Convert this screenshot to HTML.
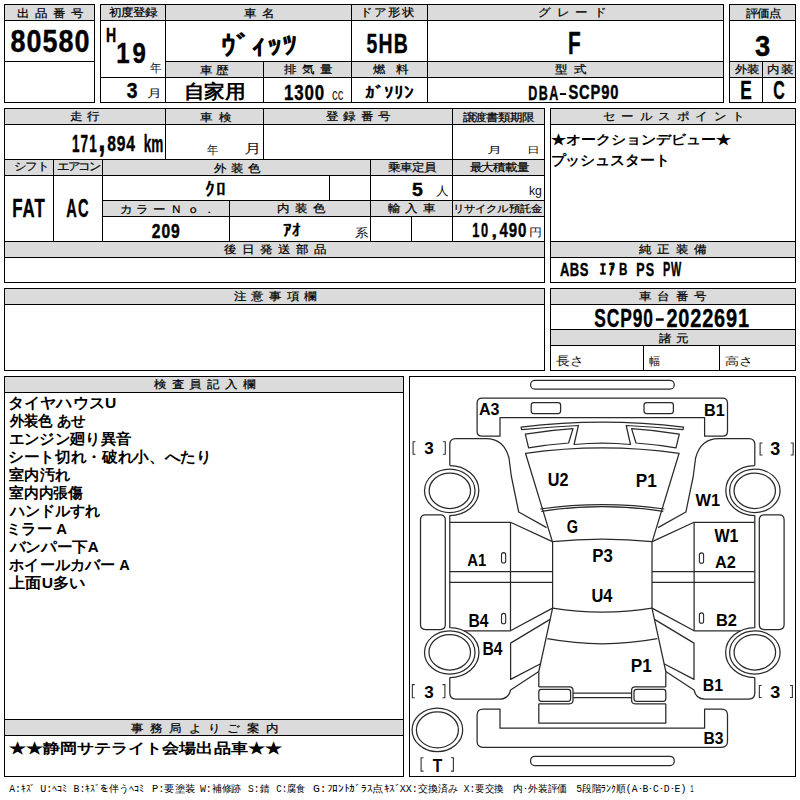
<!DOCTYPE html>
<html lang="ja"><head><meta charset="utf-8">
<style>
html,body{margin:0;padding:0;background:#fff;}
svg{display:block;}
text{font-family:"Liberation Sans",sans-serif;white-space:pre;}
</style></head>
<body>
<svg width="800" height="800" viewBox="0 0 800 800">
<rect width="800" height="800" fill="#fff"/>
<rect x="5" y="5" width="89" height="15" fill="#dbdbdb"/>
<rect x="101" y="5" width="64" height="15" fill="#dbdbdb"/>
<rect x="166" y="5" width="185" height="15" fill="#dbdbdb"/>
<rect x="352" y="5" width="75" height="15" fill="#dbdbdb"/>
<rect x="428" y="5" width="295" height="15" fill="#dbdbdb"/>
<rect x="166" y="62" width="97" height="15" fill="#dbdbdb"/>
<rect x="264" y="62" width="87" height="15" fill="#dbdbdb"/>
<rect x="352" y="62" width="75" height="15" fill="#dbdbdb"/>
<rect x="428" y="62" width="295" height="15" fill="#dbdbdb"/>
<rect x="730" y="5" width="65" height="15" fill="#dbdbdb"/>
<rect x="730" y="62" width="32" height="15" fill="#dbdbdb"/>
<rect x="763" y="62" width="32" height="15" fill="#dbdbdb"/>
<rect x="5" y="109" width="160" height="15" fill="#dbdbdb"/>
<rect x="166" y="109" width="97" height="15" fill="#dbdbdb"/>
<rect x="264" y="109" width="188" height="15" fill="#dbdbdb"/>
<rect x="453" y="109" width="91" height="15" fill="#dbdbdb"/>
<rect x="5" y="160" width="48" height="15" fill="#dbdbdb"/>
<rect x="54" y="160" width="48" height="15" fill="#dbdbdb"/>
<rect x="103" y="160" width="267" height="15" fill="#dbdbdb"/>
<rect x="371" y="160" width="81" height="15" fill="#dbdbdb"/>
<rect x="453" y="160" width="91" height="15" fill="#dbdbdb"/>
<rect x="103" y="201" width="126" height="15" fill="#dbdbdb"/>
<rect x="230" y="201" width="140" height="15" fill="#dbdbdb"/>
<rect x="371" y="201" width="81" height="15" fill="#dbdbdb"/>
<rect x="453" y="201" width="91" height="15" fill="#dbdbdb"/>
<rect x="5" y="242" width="539" height="15" fill="#dbdbdb"/>
<rect x="551" y="109" width="244" height="15" fill="#dbdbdb"/>
<rect x="551" y="242" width="244" height="15" fill="#dbdbdb"/>
<rect x="5" y="289" width="539" height="15" fill="#dbdbdb"/>
<rect x="551" y="289" width="244" height="15" fill="#dbdbdb"/>
<rect x="551" y="330" width="244" height="15" fill="#dbdbdb"/>
<rect x="5" y="377" width="398" height="15" fill="#dbdbdb"/>
<rect x="5" y="720" width="398" height="15" fill="#dbdbdb"/>
<rect x="4" y="4" width="91" height="1"/>
<rect x="4" y="102" width="91" height="1"/>
<rect x="4" y="20" width="91" height="1"/>
<rect x="4" y="61" width="91" height="1"/>
<rect x="100" y="4" width="624" height="1"/>
<rect x="100" y="102" width="624" height="1"/>
<rect x="100" y="20" width="624" height="1"/>
<rect x="165" y="61" width="559" height="1"/>
<rect x="100" y="77" width="624" height="1"/>
<rect x="729" y="4" width="67" height="1"/>
<rect x="729" y="102" width="67" height="1"/>
<rect x="729" y="20" width="67" height="1"/>
<rect x="729" y="61" width="67" height="1"/>
<rect x="729" y="77" width="67" height="1"/>
<rect x="4" y="108" width="541" height="1"/>
<rect x="4" y="282" width="541" height="1"/>
<rect x="4" y="124" width="541" height="1"/>
<rect x="4" y="159" width="541" height="1"/>
<rect x="4" y="175" width="541" height="1"/>
<rect x="102" y="200" width="443" height="1"/>
<rect x="102" y="216" width="443" height="1"/>
<rect x="4" y="241" width="541" height="1"/>
<rect x="4" y="257" width="541" height="1"/>
<rect x="550" y="108" width="246" height="1"/>
<rect x="550" y="282" width="246" height="1"/>
<rect x="550" y="124" width="246" height="1"/>
<rect x="550" y="241" width="246" height="1"/>
<rect x="550" y="257" width="246" height="1"/>
<rect x="4" y="288" width="541" height="1"/>
<rect x="4" y="370" width="541" height="1"/>
<rect x="4" y="304" width="541" height="1"/>
<rect x="550" y="288" width="246" height="1"/>
<rect x="550" y="370" width="246" height="1"/>
<rect x="550" y="304" width="246" height="1"/>
<rect x="550" y="329" width="246" height="1"/>
<rect x="550" y="345" width="246" height="1"/>
<rect x="4" y="376" width="400" height="1"/>
<rect x="4" y="776" width="400" height="1"/>
<rect x="4" y="392" width="400" height="1"/>
<rect x="4" y="719" width="400" height="1"/>
<rect x="4" y="735" width="400" height="1"/>
<rect x="409" y="376" width="387" height="1"/>
<rect x="409" y="776" width="387" height="1"/>
<rect x="4" y="4" width="1" height="99"/>
<rect x="94" y="4" width="1" height="99"/>
<rect x="100" y="4" width="1" height="99"/>
<rect x="723" y="4" width="1" height="99"/>
<rect x="165" y="4" width="1" height="99"/>
<rect x="351" y="4" width="1" height="99"/>
<rect x="427" y="4" width="1" height="99"/>
<rect x="263" y="61" width="1" height="42"/>
<rect x="729" y="4" width="1" height="99"/>
<rect x="795" y="4" width="1" height="99"/>
<rect x="762" y="61" width="1" height="42"/>
<rect x="4" y="108" width="1" height="175"/>
<rect x="544" y="108" width="1" height="175"/>
<rect x="165" y="108" width="1" height="52"/>
<rect x="263" y="108" width="1" height="52"/>
<rect x="452" y="108" width="1" height="52"/>
<rect x="53" y="159" width="1" height="83"/>
<rect x="102" y="159" width="1" height="83"/>
<rect x="370" y="159" width="1" height="83"/>
<rect x="452" y="159" width="1" height="83"/>
<rect x="329" y="175" width="1" height="26"/>
<rect x="229" y="200" width="1" height="42"/>
<rect x="411" y="216" width="1" height="26"/>
<rect x="550" y="108" width="1" height="175"/>
<rect x="795" y="108" width="1" height="175"/>
<rect x="4" y="288" width="1" height="83"/>
<rect x="544" y="288" width="1" height="83"/>
<rect x="550" y="288" width="1" height="83"/>
<rect x="795" y="288" width="1" height="83"/>
<rect x="643" y="345" width="1" height="26"/>
<rect x="719" y="345" width="1" height="26"/>
<rect x="4" y="376" width="1" height="401"/>
<rect x="403" y="376" width="1" height="401"/>
<rect x="409" y="376" width="1" height="401"/>
<rect x="795" y="376" width="1" height="401"/>
<rect x="559.9" y="93.1" width="6.2" height="1.9"/>
<rect x="655.9" y="318.3" width="7.85" height="2.45"/>
<g fill="none" stroke="#2a2a2a" stroke-width="1.25" stroke-linejoin="round">
<path d="M533.7 402.5 L558.1 402.5 Q560.6 402.5 560.6 405 L560.6 411 Q560.6 413.5 558.1 413.5 L533.7 413.5 Q531.2 413.5 531.2 411 L531.2 405 Q531.2 402.5 533.7 402.5 Z"/>
<path d="M525.3 434.2 Q548 430.2 573 428.6 L568.6 443 Q548 444.6 528.6 447.8 Z"/>
<path d="M552.6 541.6 L552.6 608.1"/>
<path d="M449.8 465.5 L449.8 444.5 Q449.8 438.5 455.8 438.5 L486 438.5 Q504 438.5 509 458 L511.3 476 L518.7 512 L546.6 527.6"/>
<path d="M449.8 465.5 A29 25 0 0 1 449.8 515.5 L449.8 627.5 A29.2 25 0 0 1 449.8 677.5"/>
<path d="M425.5 514.8 L440.3 514.8 Q445.3 514.8 445.3 519.8 L445.3 624.5 Q445.3 629.5 440.3 629.5 L425.5 629.5 Q420.5 629.5 420.5 624.5 L420.5 519.8 Q420.5 514.8 425.5 514.8 Z"/>
<path d="M449.8 522.3 L510.5 522.3 L552.4 541.6"/>
<path d="M510.5 522.5 L510.5 630.6"/>
<path d="M449.8 571.6 L552.6 571.6"/>
<path d="M449.8 582.3 L552.6 582.3"/>
<path d="M464 630.8 L510.5 630.8 L552.6 608.1"/>
<path d="M552.6 608.1 L538.8 671.5 L538.8 686.9"/>
<path d="M550.1 619.4 L510.6 643.1 L510.6 679.4 L540.6 663.8"/>
<path d="M538.8 671.5 L510.6 690 Q508.5 699.1 500 699.1 L455.8 699.1 Q449.8 699.1 449.8 693.1 L449.8 677.5"/>
<path d="M538.8 686.9 L569.5 686.9 Q573 686.9 573 690.4 L573 700.3 Q573 703.8 569.5 703.8 L538.8 703.8"/>
<path d="M541.3 689.4 L568.1 689.4 Q570.6 689.4 570.6 691.9 L570.6 698.8 Q570.6 701.3 568.1 701.3 L541.3 701.3 Q538.8 701.3 538.8 698.8 L538.8 691.9 Q538.8 689.4 541.3 689.4 Z"/>
<ellipse cx="449.75" cy="490.75" rx="25.25" ry="21.75"/>
<ellipse cx="449.85" cy="490.75" rx="20.7" ry="17.75"/>
<ellipse cx="449.75" cy="652.4" rx="25.25" ry="21.6"/>
<ellipse cx="449.75" cy="652.25" rx="20.75" ry="17.75"/>
<g transform="matrix(-1 0 0 1 1204.6 0)"><path d="M533.7 402.5 L558.1 402.5 Q560.6 402.5 560.6 405 L560.6 411 Q560.6 413.5 558.1 413.5 L533.7 413.5 Q531.2 413.5 531.2 411 L531.2 405 Q531.2 402.5 533.7 402.5 Z"/>
<path d="M525.3 434.2 Q548 430.2 573 428.6 L568.6 443 Q548 444.6 528.6 447.8 Z"/>
<path d="M552.6 541.6 L552.6 608.1"/>
<path d="M449.8 465.5 L449.8 444.5 Q449.8 438.5 455.8 438.5 L486 438.5 Q504 438.5 509 458 L511.3 476 L518.7 512 L546.6 527.6"/>
<path d="M449.8 465.5 A29 25 0 0 1 449.8 515.5 L449.8 627.5 A29.2 25 0 0 1 449.8 677.5"/>
<path d="M425.5 514.8 L440.3 514.8 Q445.3 514.8 445.3 519.8 L445.3 624.5 Q445.3 629.5 440.3 629.5 L425.5 629.5 Q420.5 629.5 420.5 624.5 L420.5 519.8 Q420.5 514.8 425.5 514.8 Z"/>
<path d="M449.8 522.3 L510.5 522.3 L552.4 541.6"/>
<path d="M510.5 522.5 L510.5 630.6"/>
<path d="M449.8 571.6 L552.6 571.6"/>
<path d="M449.8 582.3 L552.6 582.3"/>
<path d="M464 630.8 L510.5 630.8 L552.6 608.1"/>
<path d="M552.6 608.1 L538.8 671.5 L538.8 686.9"/>
<path d="M550.1 619.4 L510.6 643.1 L510.6 679.4 L540.6 663.8"/>
<path d="M538.8 671.5 L510.6 690 Q508.5 699.1 500 699.1 L455.8 699.1 Q449.8 699.1 449.8 693.1 L449.8 677.5"/>
<path d="M538.8 686.9 L569.5 686.9 Q573 686.9 573 690.4 L573 700.3 Q573 703.8 569.5 703.8 L538.8 703.8"/>
<path d="M541.3 689.4 L568.1 689.4 Q570.6 689.4 570.6 691.9 L570.6 698.8 Q570.6 701.3 568.1 701.3 L541.3 701.3 Q538.8 701.3 538.8 698.8 L538.8 691.9 Q538.8 689.4 541.3 689.4 Z"/>
<ellipse cx="449.75" cy="490.75" rx="25.25" ry="21.75"/>
<ellipse cx="449.85" cy="490.75" rx="20.7" ry="17.75"/>
<ellipse cx="449.75" cy="652.4" rx="25.25" ry="21.6"/>
<ellipse cx="449.75" cy="652.25" rx="20.75" ry="17.75"/></g>
<path d="M602.3 417.6 L704.6 417.6 L704.6 436.2 L722.5 436.2 Q727.5 436.2 727.5 431.2 L727.5 403.2 Q727.5 398.2 722.5 398.2 L602.3 398.2 L482.1 398.2 Q477.1 398.2 477.1 403.2 L477.1 431.2 Q477.1 436.2 482.1 436.2 L500 436.2 L500 417.6 L602.3 417.6 Z"/>
<path d="M602.3 443 Q616.6 443 630.5 444.5 L626.2 425.5 Q654.6 426.8 683 429.6 L683.5 427.2 Q642.6 422.2 602.3 422.2 Q562 422.2 521.1 427.2 L521.6 429.6 Q550 426.8 578.4 425.5 L574.1 444.5 Q588 443 602.3 443 Z"/>
<path d="M652.2 541.6 L679.1 453.3 Q640.6 447.8 602.3 447.8 Q564 447.8 525.5 453.3 L552.4 541.6"/>
<path d="M664.3 509 Q633.6 504.6 602.3 504.6 Q571 504.6 540.3 509"/>
<path d="M663.3 511.4 Q633.6 506.6 602.3 506.6 Q571 506.6 541.3 511.4"/>
<path d="M652.2 541.6 Q627.6 539 602.3 539 Q577 539 552.4 541.6"/>
<path d="M652 608.1 Q627.6 612 602.3 612 Q577 612 552.6 608.1"/>
<path d="M657.3 638.7 Q629.6 643.8 602.3 643.8 Q575 643.8 547.3 638.7"/>
<path d="M631.6 693.1 L602.3 693.1 L573 693.1"/>
<path d="M631.6 697.5 L602.3 697.5 L573 697.5"/>
<path d="M665.8 703.8 L665.8 723.1 L602.3 723.1 L538.8 723.1 L538.8 703.8"/>
<path d="M602.3 747.3 L721.5 747.3 Q727.5 747.3 727.5 741.3 L727.5 715.1 Q727.5 709.1 721.5 709.1 L704.6 709.1 L704.6 728.2 L602.3 728.2 L500 728.2 L500 709.1 L483.1 709.1 Q477.1 709.1 477.1 715.1 L477.1 741.3 Q477.1 747.3 483.1 747.3 L602.3 747.3 Z"/>
<rect x="530.6" y="380.4" width="143.6" height="8.7" rx="4.2"/>
<rect x="530.6" y="756.3" width="143.6" height="9.3" rx="4.2"/>
<ellipse cx="437.4" cy="729.9" rx="25.3" ry="21.8"/>
<ellipse cx="437.4" cy="729.9" rx="21.0" ry="18.0"/>
<rect x="501.5" y="552.5999999999999" width="4.2" height="10.4" rx="2.1" stroke-width="1.1"/>
<rect x="501.5" y="613.4" width="4.2" height="10.4" rx="2.1" stroke-width="1.1"/>
<rect x="699.4" y="552.9" width="4.2" height="10.4" rx="2.1" stroke-width="1.1"/>
<rect x="699.4" y="612.9" width="4.2" height="10.4" rx="2.1" stroke-width="1.1"/>
</g>
<g fill="none" stroke="#333" stroke-width="1.1">
<path d="M415.50 441.75 L413.10 441.75 L413.10 454.25 L415.50 454.25"/>
<path d="M442.90 441.75 L445.30 441.75 L445.30 454.25 L442.90 454.25"/>
<path d="M762.50 443.00 L760.10 443.00 L760.10 455.00 L762.50 455.00"/>
<path d="M790.75 443.00 L793.15 443.00 L793.15 455.00 L790.75 455.00"/>
<path d="M414.75 684.60 L412.35 684.60 L412.35 697.75 L414.75 697.75"/>
<path d="M442.50 684.60 L444.90 684.60 L444.90 697.75 L442.50 697.75"/>
<path d="M761.75 685.50 L759.35 685.50 L759.35 697.50 L761.75 697.50"/>
<path d="M790.00 685.50 L792.40 685.50 L792.40 697.50 L790.00 697.50"/>
<path d="M423.50 757.75 L421.10 757.75 L421.10 771.10 L423.50 771.10"/>
<path d="M451.00 757.75 L453.40 757.75 L453.40 771.10 L451.00 771.10"/>
</g>
<text id="t1" transform="translate(17.35,16.50) scale(1,0.88)" x="0" y="0" font-size="12.00" font-weight="400" fill="#000" stroke="#000" stroke-width="0.25" textLength="65.40" lengthAdjust="spacing">出 品 番 号</text>
<text id="t2" transform="translate(10.50,52.00) scale(0.862,1)" x="0" y="0" font-size="31.27" font-weight="700" fill="#000" stroke="#000" stroke-width="0.4" textLength="91.65" lengthAdjust="spacing">80580</text>
<text id="t3" transform="translate(109.40,16.25) scale(1,0.88)" x="0" y="0" font-size="12.00" font-weight="400" fill="#000" stroke="#000" stroke-width="0.25" textLength="47.50" lengthAdjust="spacing">初度登録</text>
<text id="t4" transform="translate(106.00,42.38) scale(0.72,1)" x="0" y="0" font-size="20.53" font-weight="700" fill="#000" stroke="#000" stroke-width="0.4" textLength="14.10" lengthAdjust="spacingAndGlyphs">H</text>
<text id="t5" transform="translate(116.25,63.25) scale(0.814,1)" x="0" y="0" font-size="29.53" font-weight="700" fill="#000" stroke="#000" stroke-width="0.4" textLength="36.24" lengthAdjust="spacing">19</text>
<text id="t6" x="149.75" y="72.29" font-size="11.60" font-weight="400" fill="#111"  textLength="11.50" lengthAdjust="spacingAndGlyphs">年</text>
<text id="t7" transform="translate(126.75,98.12) scale(0.72,1)" x="0" y="0" font-size="22.59" font-weight="700" fill="#000" stroke="#000" stroke-width="0.4" textLength="14.93" lengthAdjust="spacingAndGlyphs">3</text>
<text id="t8" x="147.00" y="97.25" font-size="11.12" font-weight="400" fill="#111"  textLength="15.00" lengthAdjust="spacingAndGlyphs">月</text>
<text id="t9" transform="translate(243.75,17.00) scale(1,0.88)" x="0" y="0" font-size="12.00" font-weight="400" fill="#000" stroke="#000" stroke-width="0.25" textLength="30.25" lengthAdjust="spacing">車 名</text>
<text id="t10" x="220.50" y="55.32" font-size="27.31" font-weight="700" fill="#000"  textLength="77.25" lengthAdjust="spacingAndGlyphs">ｳﾞｨｯﾂ</text>
<text id="t11" transform="translate(360.25,16.25) scale(1,0.88)" x="0" y="0" font-size="12.00" font-weight="400" fill="#000" stroke="#000" stroke-width="0.25" textLength="52.95" lengthAdjust="spacing">ドア形状</text>
<text id="t12" transform="translate(366.50,53.38) scale(0.689,1)" x="0" y="0" font-size="28.16" font-weight="700" fill="#000" stroke="#000" stroke-width="0.4" textLength="59.87" lengthAdjust="spacing">5HB</text>
<text id="t13" transform="translate(538.20,16.25) scale(1,0.88)" x="0" y="0" font-size="12.00" font-weight="400" fill="#000" stroke="#000" stroke-width="0.25" textLength="67.05" lengthAdjust="spacing">グ レ ー ド</text>
<text id="t14" transform="translate(568.00,54.25) scale(0.72,1)" x="0" y="0" font-size="31.30" font-weight="700" fill="#000" stroke="#000" stroke-width="0.4" textLength="17.64" lengthAdjust="spacingAndGlyphs">F</text>
<text id="t15" transform="translate(746.25,16.75) scale(1,0.88)" x="0" y="0" font-size="12.00" font-weight="400" fill="#000" stroke="#000" stroke-width="0.25" textLength="34.00" lengthAdjust="spacing">評価点</text>
<text id="t16" transform="translate(755.00,55.75) scale(0.72,1)" x="0" y="0" font-size="29.53" font-weight="700" fill="#000" stroke="#000" stroke-width="0.4" textLength="21.18" lengthAdjust="spacingAndGlyphs">3</text>
<text id="t17" transform="translate(200.40,73.75) scale(1,0.88)" x="0" y="0" font-size="12.00" font-weight="400" fill="#000" stroke="#000" stroke-width="0.25" textLength="27.60" lengthAdjust="spacing">車 歴</text>
<text id="t18" x="183.50" y="98.28" font-size="19.36" font-weight="700" fill="#000"  textLength="61.75" lengthAdjust="spacingAndGlyphs">自家用</text>
<text id="t19" transform="translate(283.75,73.00) scale(1,0.88)" x="0" y="0" font-size="12.00" font-weight="400" fill="#000" stroke="#000" stroke-width="0.25" textLength="47.75" lengthAdjust="spacing">排 気 量</text>
<text id="t20" transform="translate(284.00,99.62) scale(0.761,1)" x="0" y="0" font-size="22.24" font-weight="700" fill="#000" stroke="#000" stroke-width="0.4" textLength="52.89" lengthAdjust="spacing">1300</text>
<text id="t21" x="332.00" y="100.15" font-size="15.62" font-weight="400" fill="#111"  textLength="11.25" lengthAdjust="spacingAndGlyphs">cc</text>
<text id="t22" transform="translate(372.50,73.00) scale(1,0.88)" x="0" y="0" font-size="12.00" font-weight="400" fill="#000" stroke="#000" stroke-width="0.25" textLength="35.00" lengthAdjust="spacing">燃 料</text>
<text id="t23" x="365.25" y="97.57" font-size="16.15" font-weight="700" fill="#000"  textLength="48.05" lengthAdjust="spacingAndGlyphs">ｶﾞｿﾘﾝ</text>
<text id="t24" transform="translate(555.00,73.25) scale(1,0.88)" x="0" y="0" font-size="12.00" font-weight="400" fill="#000" stroke="#000" stroke-width="0.25" textLength="30.25" lengthAdjust="spacing">型 式</text>
<text id="t25" transform="translate(528.20,99.53) scale(0.609,1)" x="0" y="0" font-size="20.64" font-weight="700" fill="#000" stroke="#000" stroke-width="0.4" textLength="49.34" lengthAdjust="spacing">DBA</text>
<text id="t25b" transform="translate(568.40,99.28) scale(0.714,1)" x="0" y="0" font-size="20.64" font-weight="700" fill="#000" stroke="#000" stroke-width="0.4" textLength="70.03" lengthAdjust="spacing">SCP90</text>
<text id="t26" transform="translate(735.00,73.25) scale(1,0.88)" x="0" y="0" font-size="12.00" font-weight="400" fill="#000" stroke="#000" stroke-width="0.25" textLength="23.25" lengthAdjust="spacing">外装</text>
<text id="t27" transform="translate(767.25,73.25) scale(1,0.88)" x="0" y="0" font-size="12.00" font-weight="400" fill="#000" stroke="#000" stroke-width="0.25" textLength="25.00" lengthAdjust="spacing">内装</text>
<text id="t28" transform="translate(740.25,99.25) scale(0.72,1)" x="0" y="0" font-size="26.09" font-weight="700" fill="#000" stroke="#000" stroke-width="0.4" textLength="15.97" lengthAdjust="spacingAndGlyphs">E</text>
<text id="t29" transform="translate(773.25,98.88) scale(0.72,1)" x="0" y="0" font-size="25.04" font-weight="700" fill="#000" stroke="#000" stroke-width="0.4" textLength="15.97" lengthAdjust="spacingAndGlyphs">C</text>
<text id="t30" transform="translate(69.75,120.25) scale(1,0.88)" x="0" y="0" font-size="12.00" font-weight="400" fill="#000" stroke="#000" stroke-width="0.25" textLength="29.00" lengthAdjust="spacing">走 行</text>
<text id="t31" transform="translate(72.00,151.62) scale(0.582,1)" x="0" y="0" font-size="23.27" font-weight="700" fill="#000" stroke="#000" stroke-width="0.4" textLength="42.53" lengthAdjust="spacing">171</text>
<text id="t31b" transform="translate(98.25,150.50) scale(0.72,1)" x="0" y="0" font-size="35.22" font-weight="700" fill="#000" stroke="#000" stroke-width="0.4" textLength="10.07" lengthAdjust="spacingAndGlyphs">,</text>
<text id="t31c" transform="translate(107.25,151.38) scale(0.693,1)" x="0" y="0" font-size="22.58" font-weight="700" fill="#000" stroke="#000" stroke-width="0.4" textLength="40.04" lengthAdjust="spacing">894</text>
<text id="t31d" transform="translate(143.75,151.53) scale(0.55,1)" x="0" y="0" font-size="24.68" font-weight="700" fill="#000" stroke="#000" stroke-width="0.4" textLength="35.45" lengthAdjust="spacing">km</text>
<text id="t32" transform="translate(199.50,120.70) scale(1,0.88)" x="0" y="0" font-size="12.00" font-weight="400" fill="#000" stroke="#000" stroke-width="0.25" textLength="31.50" lengthAdjust="spacing">車 検</text>
<text id="t33" x="206.75" y="153.62" font-size="12.23" font-weight="400" fill="#111"  textLength="11.25" lengthAdjust="spacingAndGlyphs">年</text>
<text id="t34" x="244.00" y="153.38" font-size="12.78" font-weight="400" fill="#111"  textLength="17.50" lengthAdjust="spacingAndGlyphs">月</text>
<text id="t35" transform="translate(325.50,120.25) scale(1,0.88)" x="0" y="0" font-size="12.00" font-weight="400" fill="#000" stroke="#000" stroke-width="0.25" textLength="64.25" lengthAdjust="spacing">登 録 番 号</text>
<text id="t36" transform="translate(462.50,121.25) scale(1,0.88)" x="0" y="0" font-size="12.00" font-weight="400" fill="#000" stroke="#000" stroke-width="0.25" textLength="71.25" lengthAdjust="spacing">譲渡書類期限</text>
<text id="t37" x="486.75" y="153.16" font-size="8.91" font-weight="400" fill="#111"  textLength="15.25" lengthAdjust="spacingAndGlyphs">月</text>
<text id="t38" x="526.75" y="153.16" font-size="9.18" font-weight="400" fill="#111"  textLength="12.75" lengthAdjust="spacingAndGlyphs">日</text>
<text id="t39" transform="translate(13.50,170.25) scale(1,0.88)" x="0" y="0" font-size="12.00" font-weight="400" fill="#000" stroke="#000" stroke-width="0.25" textLength="35.00" lengthAdjust="spacing">シフト</text>
<text id="t40" transform="translate(56.75,170.25) scale(1,0.88)" x="0" y="0" font-size="12.00" font-weight="400" fill="#000" stroke="#000" stroke-width="0.25" textLength="44.00" lengthAdjust="spacing">エアコン</text>
<text id="t41" transform="translate(214.00,171.80) scale(1,0.88)" x="0" y="0" font-size="12.00" font-weight="400" fill="#000" stroke="#000" stroke-width="0.25" textLength="45.70" lengthAdjust="spacing">外 装 色</text>
<text id="t42" transform="translate(388.45,171.00) scale(1,0.88)" x="0" y="0" font-size="12.00" font-weight="400" fill="#000" stroke="#000" stroke-width="0.25" textLength="47.35" lengthAdjust="spacing">乗車定員</text>
<text id="t43" transform="translate(469.50,171.00) scale(1,0.88)" x="0" y="0" font-size="12.00" font-weight="400" fill="#000" stroke="#000" stroke-width="0.25" textLength="58.95" lengthAdjust="spacing">最大積載量</text>
<text id="t44" transform="translate(12.25,217.00) scale(0.647,1)" x="0" y="0" font-size="26.09" font-weight="700" fill="#000" stroke="#000" stroke-width="0.4" textLength="50.23" lengthAdjust="spacing">FAT</text>
<text id="t45" transform="translate(66.25,216.62) scale(0.584,1)" x="0" y="0" font-size="25.02" font-weight="700" fill="#000" stroke="#000" stroke-width="0.4" textLength="38.10" lengthAdjust="spacing">AC</text>
<text id="t46" x="205.25" y="195.59" font-size="19.21" font-weight="700" fill="#000"  textLength="20.55" lengthAdjust="spacingAndGlyphs">ｸﾛ</text>
<text id="t47" transform="translate(411.90,196.15) scale(0.72,1)" x="0" y="0" font-size="19.13" font-weight="700" fill="#000" stroke="#000" stroke-width="0.4" textLength="15.07" lengthAdjust="spacingAndGlyphs">5</text>
<text id="t48" x="436.25" y="195.26" font-size="11.66" font-weight="400" fill="#111"  textLength="12.65" lengthAdjust="spacingAndGlyphs">人</text>
<text id="t49" x="528.95" y="194.80" font-size="13.58" font-weight="400" fill="#111"  textLength="13.05" lengthAdjust="spacingAndGlyphs">kg</text>
<text id="t50" transform="translate(119.75,212.50) scale(1,0.88)" x="0" y="0" font-size="12.00" font-weight="400" fill="#000" stroke="#000" stroke-width="0.25" textLength="95.25" lengthAdjust="spacing">カ ラ ー Ｎ ｏ ．</text>
<text id="t51" transform="translate(277.35,212.45) scale(1,0.88)" x="0" y="0" font-size="12.00" font-weight="400" fill="#000" stroke="#000" stroke-width="0.25" textLength="47.15" lengthAdjust="spacing">内 装 色</text>
<text id="t52" transform="translate(387.60,212.20) scale(1,0.88)" x="0" y="0" font-size="12.00" font-weight="400" fill="#000" stroke="#000" stroke-width="0.25" textLength="47.35" lengthAdjust="spacing">輸 入 車</text>
<text id="t53" transform="translate(452.50,211.95) scale(1,0.88)" x="0" y="0" font-size="11.00" font-weight="400" fill="#000" stroke="#000" stroke-width="0.25" textLength="89.25" lengthAdjust="spacing">リサイクル預託金</text>
<text id="t54" transform="translate(151.75,238.00) scale(0.805,1)" x="0" y="0" font-size="19.46" font-weight="700" fill="#000" stroke="#000" stroke-width="0.4" textLength="34.78" lengthAdjust="spacing">209</text>
<text id="t55" x="283.15" y="236.41" font-size="16.96" font-weight="700" fill="#000"  textLength="18.35" lengthAdjust="spacingAndGlyphs">ｱｵ</text>
<text id="t56" x="354.90" y="237.04" font-size="11.61" font-weight="400" fill="#111"  textLength="13.45" lengthAdjust="spacingAndGlyphs">系</text>
<text id="t57" transform="translate(472.25,236.75) scale(0.66,1)" x="0" y="0" font-size="19.44" font-weight="700" fill="#000" stroke="#000" stroke-width="0.4" textLength="24.24" lengthAdjust="spacing">10</text>
<text id="t57b" transform="translate(491.50,236.88) scale(0.72,1)" x="0" y="0" font-size="16.81" font-weight="700" fill="#000" stroke="#000" stroke-width="0.4" textLength="7.64" lengthAdjust="spacingAndGlyphs">,</text>
<text id="t57c" transform="translate(499.50,236.75) scale(0.775,1)" x="0" y="0" font-size="19.44" font-weight="700" fill="#000" stroke="#000" stroke-width="0.4" textLength="34.84" lengthAdjust="spacing">490</text>
<text id="t58" x="528.75" y="236.34" font-size="10.72" font-weight="400" fill="#111"  textLength="13.00" lengthAdjust="spacingAndGlyphs">円</text>
<text id="t59" transform="translate(224.00,253.25) scale(1,0.88)" x="0" y="0" font-size="12.00" font-weight="400" fill="#000" stroke="#000" stroke-width="0.25" textLength="101.70" lengthAdjust="spacing">後 日 発 送 部 品</text>
<text id="t60" transform="translate(602.90,120.00) scale(1,0.88)" x="0" y="0" font-size="12.00" font-weight="400" fill="#000" stroke="#000" stroke-width="0.25" textLength="141.10" lengthAdjust="spacing">セ ー ル ス ポ イ ン ト</text>
<text id="t61" x="551.30" y="144.19" font-size="12.52" font-weight="700" fill="#000"  textLength="179.15" lengthAdjust="spacingAndGlyphs">★オークションデビュー★</text>
<text id="t62" x="550.55" y="165.21" font-size="13.94" font-weight="700" fill="#000"  textLength="119.20" lengthAdjust="spacingAndGlyphs">プッシュスタート</text>
<text id="t63" transform="translate(639.00,253.40) scale(1,0.88)" x="0" y="0" font-size="12.00" font-weight="400" fill="#000" stroke="#000" stroke-width="0.25" textLength="66.70" lengthAdjust="spacing">純 正 装 備</text>
<text id="t64" transform="translate(559.90,276.38) scale(0.686,1)" x="0" y="0" font-size="18.99" font-weight="700" fill="#000" stroke="#000" stroke-width="0.4" textLength="41.55" lengthAdjust="spacing">ABS</text>
<text id="t64b" transform="translate(599.90,275.12) scale(0.68,1)" x="0" y="0" font-size="17.15" font-weight="700" fill="#000" stroke="#000" stroke-width="0.4" textLength="40.44" lengthAdjust="spacing">ｴｱB</text>
<text id="t64c" transform="translate(636.20,276.38) scale(0.659,1)" x="0" y="0" font-size="18.99" font-weight="700" fill="#000" stroke="#000" stroke-width="0.4" textLength="27.01" lengthAdjust="spacing">PS</text>
<text id="t64d" transform="translate(663.00,276.25) scale(0.561,1)" x="0" y="0" font-size="19.34" font-weight="700" fill="#000" stroke="#000" stroke-width="0.4" textLength="32.71" lengthAdjust="spacing">PW</text>
<text id="t65" transform="translate(233.50,300.25) scale(1,0.88)" x="0" y="0" font-size="12.00" font-weight="400" fill="#000" stroke="#000" stroke-width="0.25" textLength="82.50" lengthAdjust="spacing">注 意 事 項 欄</text>
<text id="t66" transform="translate(639.00,299.85) scale(1,0.88)" x="0" y="0" font-size="12.00" font-weight="400" fill="#000" stroke="#000" stroke-width="0.25" textLength="66.95" lengthAdjust="spacing">車 台 番 号</text>
<text id="t67" transform="translate(594.35,326.55) scale(0.655,1)" x="0" y="0" font-size="26.53" font-weight="700" fill="#000" stroke="#000" stroke-width="0.4" textLength="89.54" lengthAdjust="spacing">SCP90</text>
<text id="t67b" transform="translate(666.45,326.55) scale(0.753,1)" x="0" y="0" font-size="26.53" font-weight="700" fill="#000" stroke="#000" stroke-width="0.4" textLength="109.63" lengthAdjust="spacing">2022691</text>
<text id="t68" transform="translate(658.60,342.15) scale(1,0.88)" x="0" y="0" font-size="12.00" font-weight="400" fill="#000" stroke="#000" stroke-width="0.25" textLength="29.55" lengthAdjust="spacing">諸 元</text>
<text id="t69" x="556.00" y="364.65" font-size="11.71" font-weight="400" fill="#111"  textLength="27.75" lengthAdjust="spacingAndGlyphs">長さ</text>
<text id="t70" x="649.25" y="364.52" font-size="11.43" font-weight="400" fill="#111"  textLength="11.25" lengthAdjust="spacingAndGlyphs">幅</text>
<text id="t71" x="724.50" y="364.52" font-size="10.94" font-weight="400" fill="#111"  textLength="28.25" lengthAdjust="spacingAndGlyphs">高さ</text>
<text id="t72" transform="translate(153.75,388.25) scale(1,0.88)" x="0" y="0" font-size="12.00" font-weight="400" fill="#000" stroke="#000" stroke-width="0.25" textLength="100.95" lengthAdjust="spacing">検 査 員 記 入 欄</text>
<text id="t83" transform="translate(130.70,731.50) scale(1,0.88)" x="0" y="0" font-size="12.00" font-weight="400" fill="#000" stroke="#000" stroke-width="0.25" textLength="146.85" lengthAdjust="spacing">事 務 局 よ り ご 案 内</text>
<text id="t84" x="8.75" y="752.71" font-size="14.45" font-weight="700" fill="#000"  textLength="273.00" lengthAdjust="spacingAndGlyphs">★★静岡サテライト会場出品車★★</text>
<text id="d1" x="479.00" y="415.38" font-size="17.02" font-weight="700" fill="#000"  textLength="20.50" lengthAdjust="spacingAndGlyphs">A3</text>
<text id="d2" x="704.00" y="415.50" font-size="17.39" font-weight="700" fill="#000"  textLength="20.75" lengthAdjust="spacingAndGlyphs">B1</text>
<text id="d3" x="547.75" y="486.38" font-size="17.71" font-weight="700" fill="#000"  textLength="20.75" lengthAdjust="spacingAndGlyphs">U2</text>
<text id="d4" x="635.75" y="487.00" font-size="19.14" font-weight="700" fill="#000"  textLength="21.00" lengthAdjust="spacingAndGlyphs">P1</text>
<text id="d5" x="695.50" y="505.50" font-size="17.05" font-weight="700" fill="#000"  textLength="24.50" lengthAdjust="spacingAndGlyphs">W1</text>
<text id="d6" x="566.75" y="532.62" font-size="18.27" font-weight="700" fill="#000"  textLength="11.25" lengthAdjust="spacingAndGlyphs">G</text>
<text id="d7" x="714.50" y="542.00" font-size="18.08" font-weight="700" fill="#000"  textLength="24.00" lengthAdjust="spacingAndGlyphs">W1</text>
<text id="d8" x="467.25" y="566.00" font-size="17.39" font-weight="700" fill="#000"  textLength="19.00" lengthAdjust="spacingAndGlyphs">A1</text>
<text id="d9" x="592.25" y="562.38" font-size="17.71" font-weight="700" fill="#000"  textLength="20.50" lengthAdjust="spacingAndGlyphs">P3</text>
<text id="d10" x="715.00" y="567.50" font-size="17.39" font-weight="700" fill="#000"  textLength="20.75" lengthAdjust="spacingAndGlyphs">A2</text>
<text id="d11" x="591.50" y="602.30" font-size="17.44" font-weight="700" fill="#000"  textLength="21.00" lengthAdjust="spacingAndGlyphs">U4</text>
<text id="d12" x="468.50" y="626.92" font-size="18.20" font-weight="700" fill="#000"  textLength="20.00" lengthAdjust="spacingAndGlyphs">B4</text>
<text id="d13" x="716.00" y="626.38" font-size="15.99" font-weight="700" fill="#000"  textLength="21.00" lengthAdjust="spacingAndGlyphs">B2</text>
<text id="d14" x="482.50" y="655.05" font-size="18.30" font-weight="700" fill="#000"  textLength="20.00" lengthAdjust="spacingAndGlyphs">B4</text>
<text id="d15" x="630.75" y="672.00" font-size="18.08" font-weight="700" fill="#000"  textLength="21.00" lengthAdjust="spacingAndGlyphs">P1</text>
<text id="d16" x="702.75" y="690.50" font-size="17.05" font-weight="700" fill="#000"  textLength="20.25" lengthAdjust="spacingAndGlyphs">B1</text>
<text id="d17" x="703.50" y="744.38" font-size="17.02" font-weight="700" fill="#000"  textLength="20.00" lengthAdjust="spacingAndGlyphs">B3</text>
<text id="b1" x="424.25" y="454.18" font-size="16.38" font-weight="700" fill="#000"  textLength="9.50" lengthAdjust="spacingAndGlyphs">3</text>
<text id="b2" x="770.25" y="454.88" font-size="17.71" font-weight="700" fill="#000"  textLength="10.00" lengthAdjust="spacingAndGlyphs">3</text>
<text id="b3" x="424.25" y="697.70" font-size="16.72" font-weight="700" fill="#000"  textLength="9.50" lengthAdjust="spacingAndGlyphs">3</text>
<text id="b4" x="770.25" y="697.88" font-size="17.02" font-weight="700" fill="#000"  textLength="10.00" lengthAdjust="spacingAndGlyphs">3</text>
<text id="b5" x="432.75" y="771.50" font-size="18.08" font-weight="700" fill="#000"  textLength="9.50" lengthAdjust="spacingAndGlyphs">T</text>
<text id="n0" x="8.00" y="408.44" font-size="14.50" font-weight="700" fill="#000"  textLength="108.25" lengthAdjust="spacingAndGlyphs">タイヤハウスU</text>
<text id="n1" x="9.50" y="426.38" font-size="14.50" font-weight="700" fill="#000"  textLength="76.00" lengthAdjust="spacingAndGlyphs">外装色 あせ</text>
<text id="n2" x="8.50" y="444.31" font-size="14.50" font-weight="700" fill="#000"  textLength="123.00" lengthAdjust="spacingAndGlyphs">エンジン廻り異音</text>
<text id="n3" x="8.00" y="462.25" font-size="14.50" font-weight="700" fill="#000"  textLength="203.75" lengthAdjust="spacingAndGlyphs">シート切れ・破れ小、へたり</text>
<text id="n4" x="9.25" y="480.19" font-size="14.50" font-weight="700" fill="#000"  textLength="60.50" lengthAdjust="spacingAndGlyphs">室内汚れ</text>
<text id="n5" x="9.25" y="498.13" font-size="14.50" font-weight="700" fill="#000"  textLength="73.50" lengthAdjust="spacingAndGlyphs">室内内張傷</text>
<text id="n6" x="10.00" y="516.08" font-size="14.50" font-weight="700" fill="#000"  textLength="90.50" lengthAdjust="spacingAndGlyphs">ハンドルすれ</text>
<text id="n7" x="6.00" y="534.01" font-size="14.50" font-weight="700" fill="#000"  textLength="61.00" lengthAdjust="spacingAndGlyphs">ミラー A</text>
<text id="n8" x="9.75" y="551.96" font-size="14.50" font-weight="700" fill="#000"  textLength="89.00" lengthAdjust="spacingAndGlyphs">バンパー下A</text>
<text id="n9" x="9.25" y="569.89" font-size="14.50" font-weight="700" fill="#000"  textLength="120.50" lengthAdjust="spacingAndGlyphs">ホイールカバー A</text>
<text id="n10" x="9.25" y="587.84" font-size="14.50" font-weight="700" fill="#000"  textLength="76.25" lengthAdjust="spacingAndGlyphs">上面U多い</text>
<text id="f1" x="9.20" y="792.00" font-size="10.00" font-weight="400" style="font-family:&quot;Liberation Mono&quot;,sans-serif" fill="#000"  textLength="26.10" lengthAdjust="spacingAndGlyphs">A:ｷｽﾞ</text>
<text id="f2" x="40.25" y="792.00" font-size="10.00" font-weight="400" style="font-family:&quot;Liberation Mono&quot;,sans-serif" fill="#000"  textLength="27.10" lengthAdjust="spacingAndGlyphs">U:ﾍｺﾐ</text>
<text id="f3" x="73.55" y="792.00" font-size="10.00" font-weight="400" style="font-family:&quot;Liberation Mono&quot;,sans-serif" fill="#000"  textLength="70.70" lengthAdjust="spacingAndGlyphs">B:ｷｽﾞを伴うﾍｺﾐ</text>
<text id="f4" x="151.95" y="792.00" font-size="10.00" font-weight="400" style="font-family:&quot;Liberation Mono&quot;,sans-serif" fill="#000"  textLength="43.60" lengthAdjust="spacingAndGlyphs">P:要塗装</text>
<text id="f5" x="199.90" y="792.00" font-size="10.00" font-weight="400" style="font-family:&quot;Liberation Mono&quot;,sans-serif" fill="#000"  textLength="41.50" lengthAdjust="spacingAndGlyphs">W:補修跡</text>
<text id="f6" x="248.10" y="792.00" font-size="10.00" font-weight="400" style="font-family:&quot;Liberation Mono&quot;,sans-serif" fill="#000"  textLength="21.15" lengthAdjust="spacingAndGlyphs">S:錆</text>
<text id="f7" x="276.30" y="792.00" font-size="10.00" font-weight="400" style="font-family:&quot;Liberation Mono&quot;,sans-serif" fill="#000"  textLength="29.20" lengthAdjust="spacingAndGlyphs">C:腐食</text>
<text id="f8" x="312.95" y="792.00" font-size="10.00" font-weight="400" style="font-family:&quot;Liberation Mono&quot;,sans-serif" fill="#000"  textLength="87.95" lengthAdjust="spacingAndGlyphs">G:ﾌﾛﾝﾄｶﾞﾗｽ点ｷｽﾞ</text>
<text id="f9" x="399.75" y="792.00" font-size="10.00" font-weight="400" style="font-family:&quot;Liberation Mono&quot;,sans-serif" fill="#000"  textLength="58.45" lengthAdjust="spacingAndGlyphs">XX:交換済み</text>
<text id="f10" x="463.75" y="792.00" font-size="10.00" font-weight="400" style="font-family:&quot;Liberation Mono&quot;,sans-serif" fill="#000"  textLength="40.15" lengthAdjust="spacingAndGlyphs">X:要交換</text>
<text id="f11" x="513.15" y="792.00" font-size="10.00" font-weight="400" style="font-family:&quot;Liberation Mono&quot;,sans-serif" fill="#000"  textLength="54.00" lengthAdjust="spacingAndGlyphs">内･外装評価</text>
<text id="f12" x="576.15" y="792.00" font-size="10.00" font-weight="400" style="font-family:&quot;Liberation Mono&quot;,sans-serif" fill="#000"  textLength="110.10" lengthAdjust="spacingAndGlyphs">5段階ﾗﾝｸ順(A･B･C･D･E)</text>
<text id="f13" x="690.30" y="792.00" font-size="10.00" font-weight="400" style="font-family:&quot;Liberation Mono&quot;,sans-serif" fill="#000"  textLength="3.35" lengthAdjust="spacingAndGlyphs">1</text>
</svg>
</body></html>
